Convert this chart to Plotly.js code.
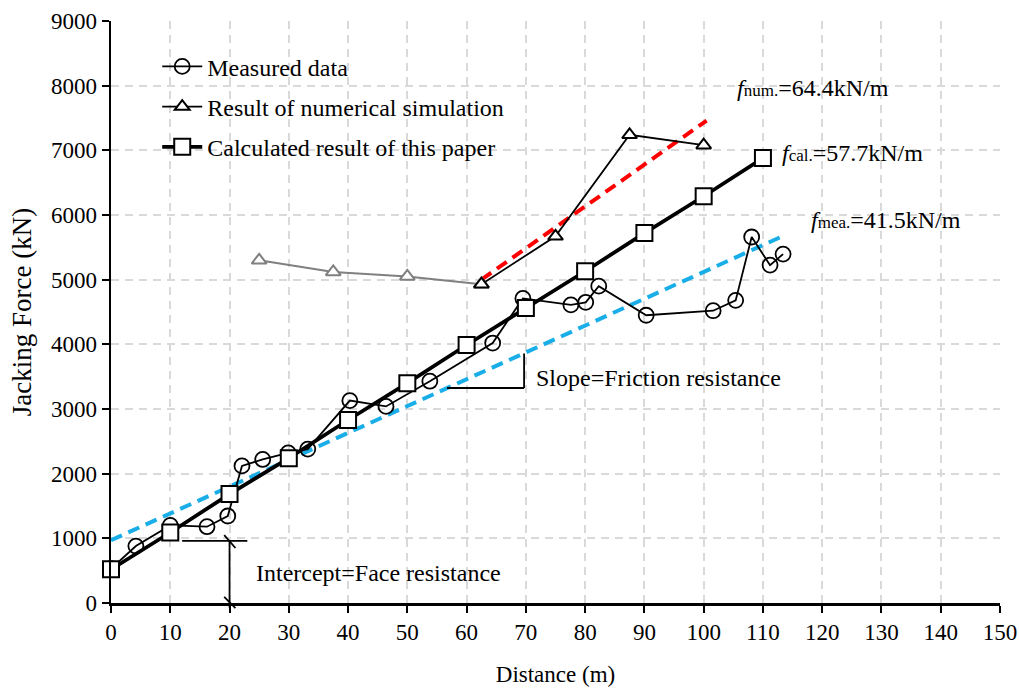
<!DOCTYPE html>
<html><head><meta charset="utf-8">
<script src="https://cdn.plot.ly/plotly-3.0.1.min.js"></script>
<style>body{margin:0;background:#fff}#c{width:1019px;height:691px}</style>
</head><body><div id="c"></div>
<script>
// Measured data
const measX = [0, 4.2, 10, 16.2, 19.7, 22.1, 25.6, 29.9, 33.2, 40.3, 46.4, 53.8, 64.4, 69.5, 77.6, 80.1, 82.3, 90.3, 101.6, 105.4, 108.1, 111.2, 113.4];
const measY = [530, 880, 1200, 1180, 1345, 2120, 2220, 2320, 2380, 3130, 3040, 3430, 4020, 4710, 4610, 4650, 4900, 4450, 4520, 4680, 5660, 5225, 5395];
// Numerical simulation (grey early part, black later part)
const numGreyX = [25, 37.5, 50, 62.5];
const numGreyY = [5300, 5120, 5050, 4930];
const numX = [62.5, 75, 87.5, 100];
const numY = [4930, 5670, 7240, 7080];
// Calculated result
const calX = [0, 10, 20, 30, 40, 50, 60, 70, 80, 90, 100, 110];
const calY = [520, 1090, 1685, 2240, 2830, 3400, 3990, 4560, 5130, 5720, 6290, 6880];
// Fitted lines
const fitNumX = [62.5, 100.5];
const fitNumY = [5000, 7460];
const fitMeaX = [0, 113.5];
const fitMeaY = [970, 5680];

const serif = 'Liberation Serif, Times New Roman, serif';

const traces = [
  {x: fitMeaX, y: fitMeaY, mode: 'lines', line: {color: '#19aee8', width: 4, dash: '12px,7px'}, showlegend: false, hoverinfo: 'skip'},
  {x: fitNumX, y: fitNumY, mode: 'lines', line: {color: '#ff0000', width: 4, dash: '12px,7px'}, showlegend: false, hoverinfo: 'skip'},
  {x: numGreyX, y: numGreyY, mode: 'lines+markers', line: {color: '#808080', width: 2},
   marker: {symbol: 'triangle-up', size: 13, color: '#fff', line: {color: '#808080', width: 2}}, showlegend: false, cliponaxis: false},
  {x: measX, y: measY, name: 'Measured data', mode: 'lines+markers', line: {color: '#000', width: 1.8},
   marker: {symbol: 'circle-open', size: 15, color: '#000', line: {width: 1.8}}, cliponaxis: false, legendgroup: 'a'},
  {x: numX, y: numY, name: 'Result of numerical simulation', mode: 'lines+markers', line: {color: '#000', width: 1.8},
   marker: {symbol: 'triangle-up', size: 13, color: '#fff', line: {color: '#000', width: 2}}, cliponaxis: false, legendgroup: 'b'},
  {x: calX, y: calY, name: 'Calculated result of this paper', mode: 'lines+markers', line: {color: '#000', width: 3.8},
   marker: {symbol: 'square', size: 16, color: '#fff', line: {color: '#000', width: 2}}, cliponaxis: false, legendgroup: 'c'}
];

const ann = (x, y, text, size) => ({x, y, xref: 'x', yref: 'y', text, showarrow: false, xanchor: 'left', yanchor: 'middle', font: {family: serif, size: size || 24, color: '#000'}});
const fl = (sub, rest) => '<i>f</i><span style="font-size:17px">' + sub + '</span>=' + rest;

const layout = {
  width: 1019, height: 691,
  margin: {l: 111, r: 19, t: 21, b: 88},
  paper_bgcolor: '#fff', plot_bgcolor: '#fff',
  font: {family: serif, color: '#000', size: 22},
  xaxis: {range: [0, 150], dtick: 10, tick0: 0, showgrid: true, gridcolor: '#d9d9d9', gridwidth: 2, griddash: '8px,6px',
    zeroline: false, showline: true, linecolor: '#000', linewidth: 2.5, ticks: 'outside', ticklen: 7, tickwidth: 2, tickcolor: '#000',
    tickfont: {family: serif, size: 23}, title: {text: 'Distance (m)', font: {family: serif, size: 23}, standoff: 22}},
  yaxis: {range: [0, 9000], dtick: 1000, tick0: 0, showgrid: true, gridcolor: '#d9d9d9', gridwidth: 2, griddash: '8px,6px',
    zeroline: false, showline: true, linecolor: '#000', linewidth: 2.5, ticks: 'outside', ticklen: 7, tickwidth: 2, tickcolor: '#000',
    tickfont: {family: serif, size: 23}, title: {text: 'Jacking Force (kN)', font: {family: serif, size: 27}, standoff: 12}},
  legend: {x: 0.052, y: 0.96, xanchor: 'left', yanchor: 'top', bgcolor: 'rgba(0,0,0,0)', font: {family: serif, size: 24},
    traceorder: 'grouped', tracegroupgap: 6, itemwidth: 40},
  annotations: [
    ann(105.3, 7960, fl('num.', '64.4kN/m')),
    ann(112.8, 6960, fl('cal.', '57.7kN/m')),
    ann(117.8, 5920, fl('mea.', '41.5kN/m')),
    ann(71.3, 3480, 'Slope=Friction resistance'),
    ann(24.1, 460, 'Intercept=Face resistance')
  ],
  shapes: [
    {type: 'line', xref: 'x', yref: 'y', x0: 56.7, y0: 3325, x1: 69.7, y1: 3325, line: {color: '#000', width: 1.8}},
    {type: 'line', xref: 'x', yref: 'y', x0: 69.7, y0: 3325, x1: 69.7, y1: 3860, line: {color: '#000', width: 1.8}},
    {type: 'line', xref: 'x', yref: 'y', x0: 12, y0: 960, x1: 23, y1: 960, line: {color: '#000', width: 1.8}},
    {type: 'line', xref: 'paper', yref: 'paper', x0: 20/150, y0: 960/9000, x1: 20/150, y1: -0.008, line: {color: '#000', width: 1.8}},
    {type: 'line', xref: 'paper', yref: 'paper', x0: 19.1/150, y0: 1050/9000, x1: 21/150, y1: 850/9000, line: {color: '#000', width: 1.8}},
    {type: 'line', xref: 'paper', yref: 'paper', x0: 19.1/150, y0: 95/9000, x1: 21/150, y1: -80/9000, line: {color: '#000', width: 1.8}}
  ]
};

Plotly.newPlot('c', traces, layout, {displayModeBar: false, staticPlot: true});
</script></body></html>
